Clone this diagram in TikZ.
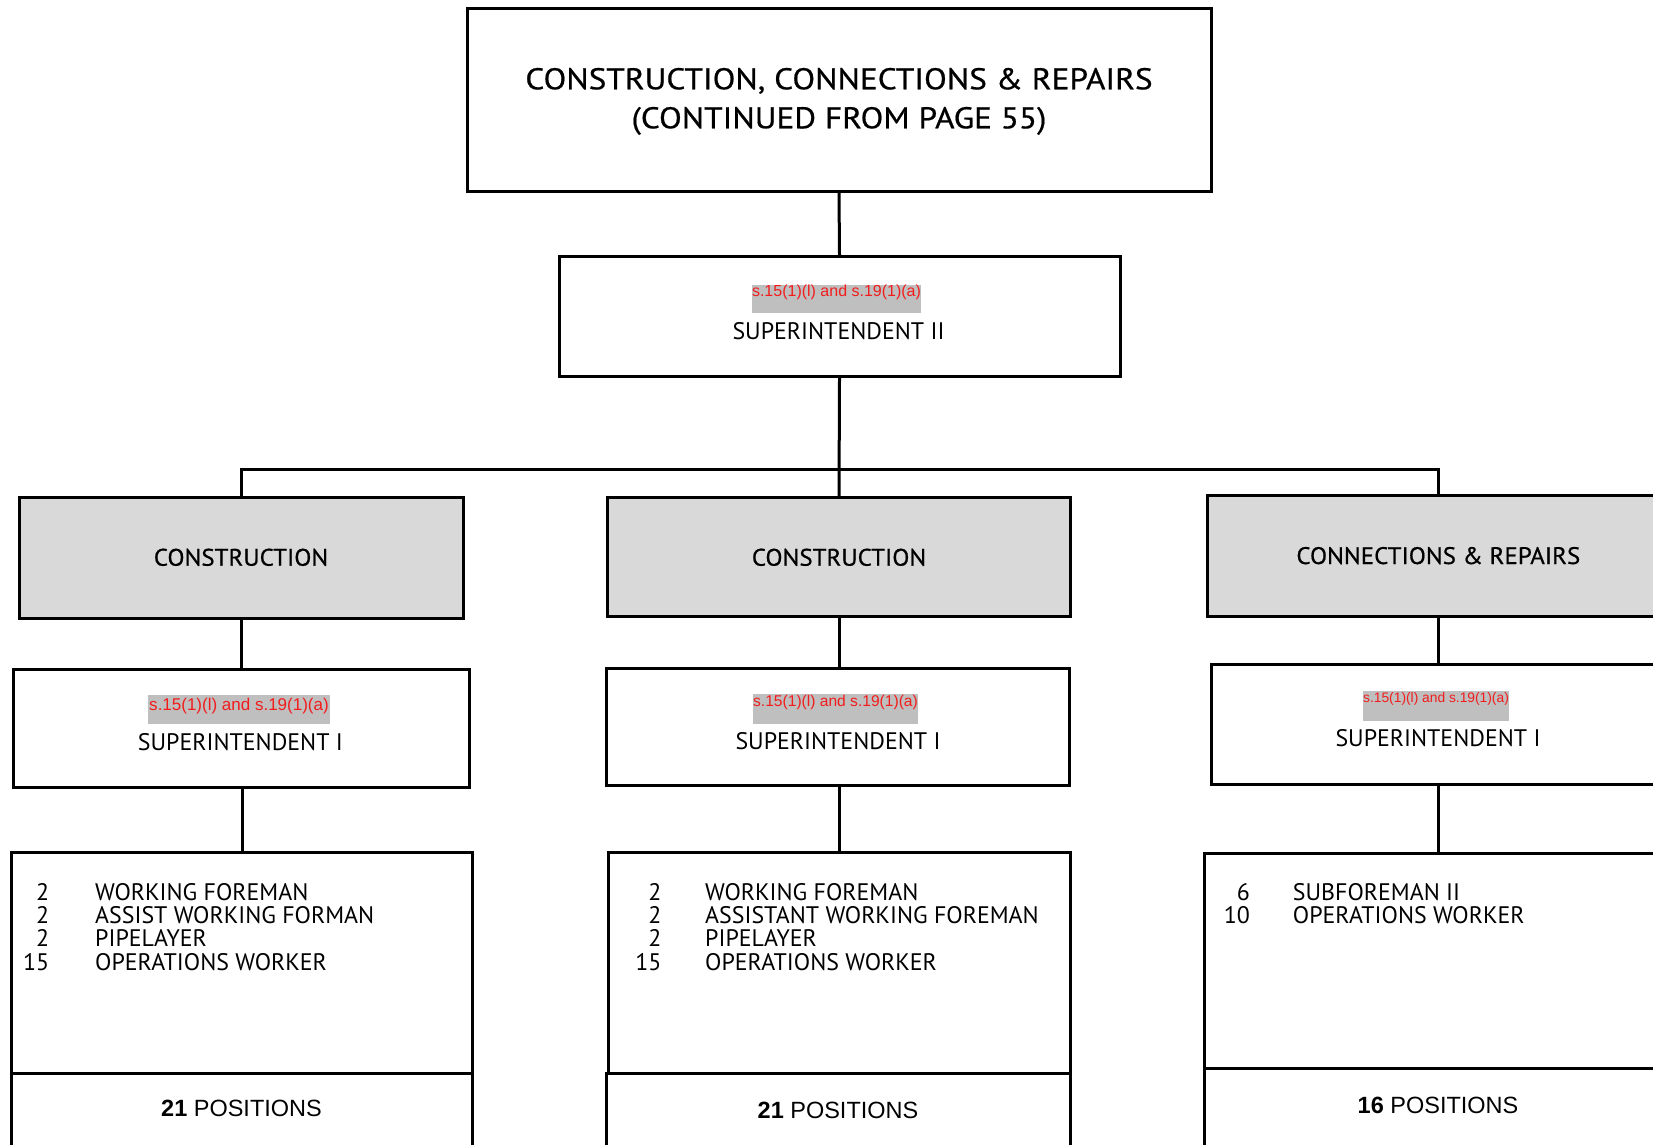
\documentclass[tikz,border=0pt]{standalone}
\usepackage{fontspec}
\setmainfont{Liberation Sans}
\newfontfamily\condf{PT Sans}
\newfontfamily\headf[FakeStretch=1.045,FakeBold=0.6]{PT Sans}
\newfontfamily\titlef[FakeStretch=1.11,FakeBold=0.6]{PT Sans}
\definecolor{boxgray}{HTML}{D9D9D9}
\definecolor{hlgray}{HTML}{BFBFBF}
\definecolor{redact}{HTML}{F21C1C}
\tikzset{
  box/.style={draw=black, line width=3pt, rectangle, inner sep=0pt},
  graybox/.style={box, fill=boxgray},
  conn/.style={draw=black, line width=3pt},
  hl/.style={fill=hlgray, rectangle, inner sep=0pt},
  ctext/.style={font=\condf\fontsize{23.9}{28}\selectfont, inner sep=0pt, anchor=base},
  htext/.style={font=\headf\fontsize{23.9}{28}\selectfont, inner sep=0pt, anchor=base},
  ttext/.style={font=\titlef\fontsize{30}{36}\selectfont, inner sep=0pt, anchor=base},
  ptext/.style={font=\fontsize{23.5}{28}\selectfont, inner sep=0pt, anchor=base},
  rtext/.style={text=redact, inner sep=0pt, anchor=base},
}
\begin{document}
\begin{tikzpicture}[x=1pt,y=-1pt]
\useasboundingbox (0,0) rectangle (1653,1144);
\clip (0,0) rectangle (1653,1144);
\fill[white] (0,0) rectangle (1653,1144);

% boxes
\node[box, minimum width=744pt, minimum height=183.4pt] (top) at (839,100) {};
\node[box, minimum width=561pt, minimum height=120pt] (sup2) at (839.5,316.7) {};
\node[graybox, minimum width=444pt, minimum height=121.3pt] (c1) at (241,558.3) {};
\node[graybox, minimum width=463.4pt, minimum height=118.7pt] (c2) at (839,557.3) {};
\node[graybox, minimum width=461.7pt, minimum height=121pt] (c3) at (1438.2,556.2) {};
\node[box, minimum width=456pt, minimum height=118pt] (s1) at (241.3,728) {};
\node[box, minimum width=463.3pt, minimum height=116.7pt] (s2) at (838.3,727.3) {};
\node[box, minimum width=452.6pt, minimum height=120pt] (s3) at (1438,724) {};
\node[box, minimum width=461pt, minimum height=220.6pt] (l1) at (242.2,963) {};
\node[box, minimum width=461.7pt, minimum height=220.6pt] (l2) at (839.2,963) {};
\node[box, minimum width=468pt, minimum height=215pt] (l3) at (1438,960.5) {};
\node[box, minimum width=461pt, minimum height=86.7pt] (p1) at (242.2,1116.7) {};
\node[box, minimum width=464pt, minimum height=86.7pt] (p2) at (838.7,1116.7) {};
\node[box, minimum width=468pt, minimum height=92pt] (p3) at (1438,1114) {};

% connectors
\coordinate (bar) at (839,469);
\draw[conn] (top.south) -- (sup2.north);
\draw[conn] (sup2.south) -- (c2.north);
\draw[conn] (c1.north) |- (bar) -| (c3.north);
\draw[conn] (c1.south) -- (s1.north -| c1.south);
\draw[conn] (c2.south) -- (s2.north -| c2.south);
\draw[conn] (c3.south) -- (s3.north -| c3.south);
\draw[conn] (l1.north) -- (l1.north |- s1.south);
\draw[conn] (l2.north) -- (l2.north |- s2.south);
\draw[conn] (l3.north) -- (l3.north |- s3.south);

% title
\node[ttext] (t1) at (839,89.3) {CONSTRUCTION, CONNECTIONS \& REPAIRS};
\node[ttext] (t2) at (839,128.3) {(CONTINUED FROM PAGE 55)};

% superintendent II
\node[hl, minimum width=169pt, minimum height=28.3pt] (h0) at (836.5,299.2) {};
\node[rtext, font=\fontsize{16}{19}\selectfont] (r0) at (836.5,296.7) {s.15(1)(l) and s.19(1)(a)};
\node[ctext] (sup2t) at (838.5,339.3) {SUPERINTENDENT II};

% section titles
\node[htext] (c1t) at (241,565.7) {CONSTRUCTION};
\node[htext] (c2t) at (839,565.7) {CONSTRUCTION};
\node[htext] (c3t) at (1438.3,564) {CONNECTIONS \& REPAIRS};

% superintendent I
\node[hl, minimum width=182pt, minimum height=29.3pt] (h1) at (239,709.7) {};
\node[rtext, font=\fontsize{17}{20}\selectfont] (r1) at (239,710) {s.15(1)(l) and s.19(1)(a)};
\node[ctext] (s1t) at (240.4,750) {SUPERINTENDENT I};
\node[hl, minimum width=165pt, minimum height=30pt] (h2) at (835.5,709) {};
\node[rtext, font=\fontsize{15.6}{19}\selectfont] (r2) at (835.5,706.7) {s.15(1)(l) and s.19(1)(a)};
\node[ctext] (s2t) at (838,749.3) {SUPERINTENDENT I};
\node[hl, minimum width=146pt, minimum height=29.7pt] (h3) at (1436,705.8) {};
\node[rtext, font=\fontsize{13.8}{17}\selectfont] (r3) at (1436,702.7) {s.15(1)(l) and s.19(1)(a)};
\node[ctext] (s3t) at (1438,746) {SUPERINTENDENT I};

% lists
\foreach \n/\t [count=\i] in {2/WORKING FOREMAN, 2/ASSIST WORKING FORMAN, 2/PIPELAYER, 15/OPERATIONS WORKER} {
  \node[ctext, anchor=base east] (la\i) at (49.3,{900+(\i-1)*23.33}) {\n};
  \node[ctext, anchor=base west] (lb\i) at (95,{900+(\i-1)*23.33}) {\t};
}
\foreach \n/\t [count=\i] in {2/WORKING FOREMAN, 2/ASSISTANT WORKING FOREMAN, 2/PIPELAYER, 15/OPERATIONS WORKER} {
  \node[ctext, anchor=base east] (ma\i) at (661.7,{900+(\i-1)*23.33}) {\n};
  \node[ctext, anchor=base west] (mb\i) at (705,{900+(\i-1)*23.33}) {\t};
}
\foreach \n/\t [count=\i] in {6/SUBFOREMAN II, 10/OPERATIONS WORKER} {
  \node[ctext, anchor=base east] (ra\i) at (1250,{900+(\i-1)*23.33}) {\n};
  \node[ctext, anchor=base west] (rb\i) at (1292.7,{900+(\i-1)*23.33}) {\t};
}

% positions
\node[ptext] (p1t) at (241.5,1116.7) {\textbf{21} POSITIONS};
\node[ptext] (p2t) at (838,1118) {\textbf{21} POSITIONS};
\node[ptext] (p3t) at (1438,1113.3) {\textbf{16} POSITIONS};
\end{tikzpicture}
\end{document}
